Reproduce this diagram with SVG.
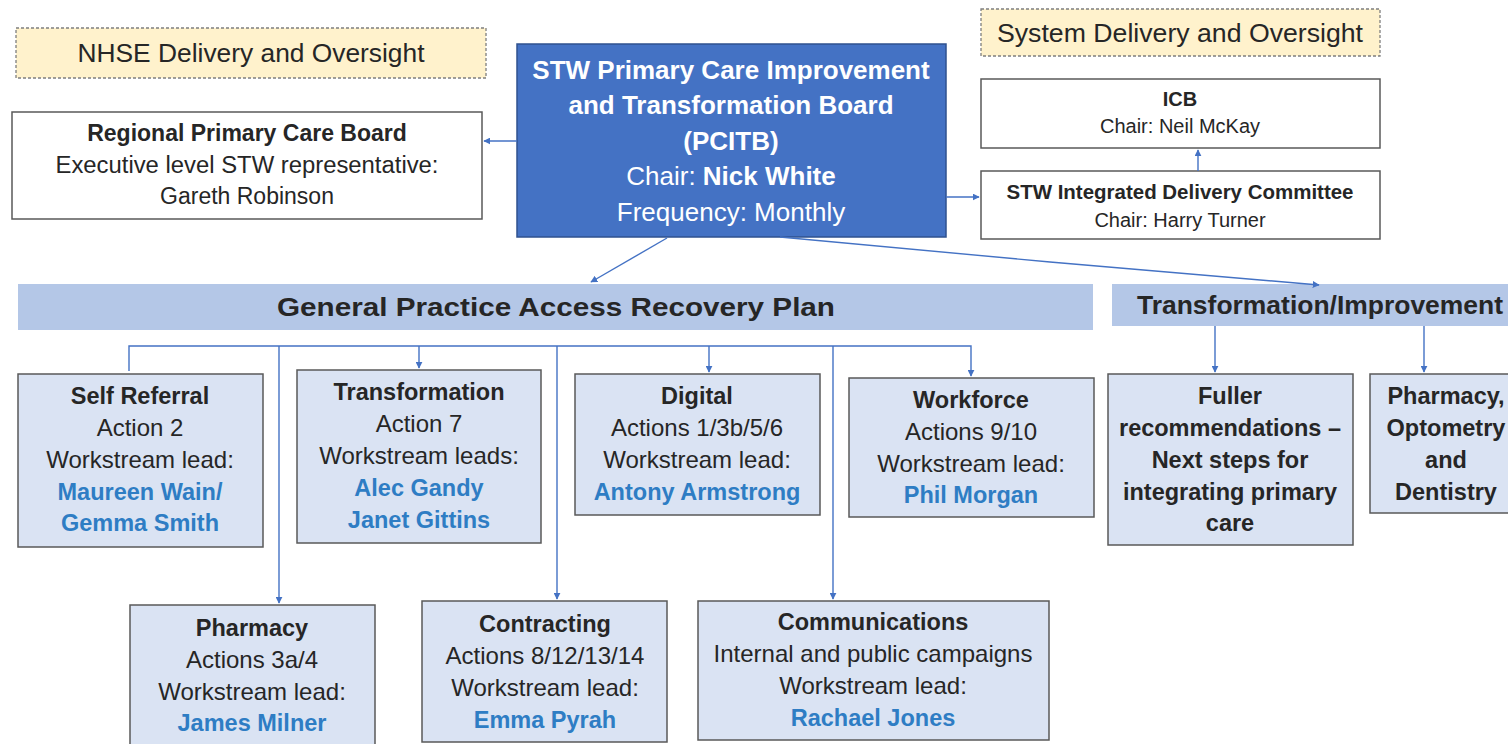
<svg xmlns="http://www.w3.org/2000/svg" width="1508" height="744" viewBox="0 0 1508 744">
<style>
text{font-family:"Liberation Sans",Arial,sans-serif;text-anchor:middle;fill:#262626}
.b{font-weight:bold}
.hdr{fill:#fff2cc;stroke:#7f7f7f;stroke-width:1.3;stroke-dasharray:3 2}
.wb{fill:#fff;stroke:#595959;stroke-width:1.5}
.lb{fill:#dae3f3;stroke:#595959;stroke-width:1.5}
.bar{fill:#b4c7e7;stroke:none}
.t23{font-size:23px}
.t24{font-size:24px}
.tb{font-size:23.5px;font-weight:bold}
.t20{font-size:20px}
.nm{fill:#2e7dc4;font-weight:bold;font-size:23.5px}
.wt{fill:#fff;font-size:26px}
.con{fill:none;stroke:#4472c4;stroke-width:1.4}
</style>
<defs>
<marker id="ah" viewBox="0 0 10 10" refX="9" refY="5" markerWidth="7" markerHeight="7" orient="auto" markerUnits="userSpaceOnUse"><path d="M0,0 L10,5 L0,10 z" fill="#4472c4"/></marker>
</defs>
<rect width="1508" height="744" fill="#fff"/>

<g id="nhse">
<rect class="hdr" x="16" y="28" width="470" height="50"/>
<text style="font-size:25px" x="251" y="62" textLength="347" lengthAdjust="spacingAndGlyphs">NHSE Delivery and Oversight</text>
</g>
<g id="system">
<rect class="hdr" x="981" y="9" width="399" height="47"/>
<text style="font-size:25px" x="1180" y="42" textLength="366" lengthAdjust="spacingAndGlyphs">System Delivery and Oversight</text>
</g>
<g id="regional">
<rect class="wb" x="12" y="112" width="470" height="107"/>
<text class="t23 b" x="247" y="141">Regional Primary Care Board</text>
<text class="t23" x="247" y="173" textLength="383" lengthAdjust="spacingAndGlyphs">Executive level STW representative:</text>
<text class="t23" x="247" y="204">Gareth Robinson</text>
</g>
<g id="pcitb">
<rect x="517" y="44" width="429" height="193" fill="#4472c4" stroke="#2f528f" stroke-width="1.5"/>
<text class="wt b" x="731" y="79">STW Primary Care Improvement</text>
<text class="wt b" x="731" y="114">and Transformation Board</text>
<text class="wt b" x="731" y="150">(PCITB)</text>
<text class="wt" x="731" y="185">Chair: <tspan class="b">Nick White</tspan></text>
<text class="wt" x="731" y="221">Frequency: Monthly</text>
</g>
<g id="icb">
<rect class="wb" x="981" y="79" width="399" height="69"/>
<text class="t20 b" x="1180" y="106">ICB</text>
<text class="t20" x="1180" y="133">Chair: Neil McKay</text>
</g>
<g id="idc">
<rect class="wb" x="981" y="171" width="399" height="68"/>
<text class="t20 b" x="1180" y="199" textLength="347" lengthAdjust="spacingAndGlyphs">STW Integrated Delivery Committee</text>
<text class="t20" x="1180" y="227">Chair: Harry Turner</text>
</g>
<g id="gparp">
<rect class="bar" x="18" y="284" width="1075" height="46"/>
<text class="b" style="font-size:26px" x="556" y="316" textLength="558" lengthAdjust="spacingAndGlyphs">General Practice Access Recovery Plan</text>
</g>
<g id="ti">
<rect class="bar" x="1112" y="284" width="400" height="42"/>
<text class="b" style="font-size:26px" x="1320" y="314" textLength="366" lengthAdjust="spacingAndGlyphs">Transformation/Improvement</text>
</g>
<g id="selfref">
<rect class="lb" x="18" y="374" width="245" height="173"/>
<text class="tb" x="140" y="404">Self Referral</text>
<text class="t24" x="140" y="436">Action 2</text>
<text class="t24" x="140" y="468">Workstream lead:</text>
<text class="nm" x="140" y="500">Maureen Wain/</text>
<text class="nm" x="140" y="531">Gemma Smith</text>
</g>
<g id="transformation">
<rect class="lb" x="297" y="370" width="244" height="173"/>
<text class="tb" x="419" y="400">Transformation</text>
<text class="t24" x="419" y="432">Action 7</text>
<text class="t24" x="419" y="464">Workstream leads:</text>
<text class="nm" x="419" y="496">Alec Gandy</text>
<text class="nm" x="419" y="528">Janet Gittins</text>
</g>
<g id="digital">
<rect class="lb" x="575" y="374" width="245" height="141"/>
<text class="tb" x="697" y="404">Digital</text>
<text class="t24" x="697" y="436">Actions 1/3b/5/6</text>
<text class="t24" x="697" y="468">Workstream lead:</text>
<text class="nm" x="697" y="500">Antony Armstrong</text>
</g>
<g id="workforce">
<rect class="lb" x="849" y="378" width="245" height="139"/>
<text class="tb" x="971" y="408">Workforce</text>
<text class="t24" x="971" y="440">Actions 9/10</text>
<text class="t24" x="971" y="472">Workstream lead:</text>
<text class="nm" x="971" y="503">Phil Morgan</text>
</g>
<g id="fuller">
<rect class="lb" x="1108" y="374" width="245" height="171"/>
<text class="tb" x="1230" y="404">Fuller</text>
<text class="tb" x="1230" y="436">recommendations –</text>
<text class="tb" x="1230" y="468">Next steps for</text>
<text class="tb" x="1230" y="500">integrating primary</text>
<text class="tb" x="1230" y="531">care</text>
</g>
<g id="pod">
<rect class="lb" x="1370" y="374" width="150" height="139"/>
<text class="tb" x="1446" y="404">Pharmacy,</text>
<text class="tb" x="1446" y="436">Optometry</text>
<text class="tb" x="1446" y="468">and</text>
<text class="tb" x="1446" y="500">Dentistry</text>
</g>
<g id="pharmacy">
<rect class="lb" x="130" y="605" width="245" height="145"/>
<text class="tb" x="252" y="636">Pharmacy</text>
<text class="t24" x="252" y="668">Actions 3a/4</text>
<text class="t24" x="252" y="700">Workstream lead:</text>
<text class="nm" x="252" y="731">James Milner</text>
</g>
<g id="contracting">
<rect class="lb" x="422" y="601" width="245" height="141"/>
<text class="tb" x="545" y="632">Contracting</text>
<text class="t24" x="545" y="664">Actions 8/12/13/14</text>
<text class="t24" x="545" y="696">Workstream lead:</text>
<text class="nm" x="545" y="728">Emma Pyrah</text>
</g>
<g id="comms">
<rect class="lb" x="698" y="601" width="351" height="139"/>
<text class="tb" x="873" y="630">Communications</text>
<text class="t24" x="873" y="662">Internal and public campaigns</text>
<text class="t24" x="873" y="694">Workstream lead:</text>
<text class="nm" x="873" y="726">Rachael Jones</text>
</g>

<g id="connectors">
<path class="con" d="M517,141 L484,141" marker-end="url(#ah)"/>
<path class="con" d="M946,197 L979,197" marker-end="url(#ah)"/>
<path class="con" d="M1198,171 L1198,150" marker-end="url(#ah)"/>
<path class="con" d="M667,238 L591,282" marker-end="url(#ah)"/>
<path class="con" d="M780,237 L1050,262 L1319,285" marker-end="url(#ah)"/>
<path class="con" d="M129,371 L129,346 L971,346 L971,376" marker-end="url(#ah)"/>
<path class="con" d="M419,346 L419,368" marker-end="url(#ah)"/>
<path class="con" d="M709,346 L709,372" marker-end="url(#ah)"/>
<path class="con" d="M279,346 L279,603" marker-end="url(#ah)"/>
<path class="con" d="M557,346 L557,599" marker-end="url(#ah)"/>
<path class="con" d="M833,346 L833,599" marker-end="url(#ah)"/>
<path class="con" d="M1215,326 L1215,372" marker-end="url(#ah)"/>
<path class="con" d="M1424,326 L1424,372" marker-end="url(#ah)"/>
</g>
</svg>
